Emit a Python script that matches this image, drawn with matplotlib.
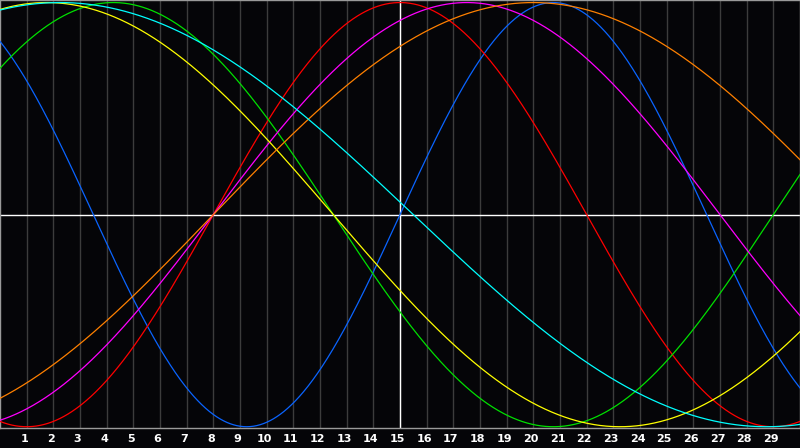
"""Biorhythm chart: seven cycles over a 30 day window."""
import matplotlib

matplotlib.use("Agg")
import matplotlib.pyplot as plt
import numpy as np

# chart window and cycle data
DAYS_SINCE_BIRTH = 19144          # day count at the left edge of the chart
WINDOW_DAYS = 30
TODAY = 15                        # marked with the white vertical line
DAY_LABELS = list(range(1, 30))

CYCLE_NAMES = ["physical", "emotional", "intellectual", "intuitive",
               "aesthetic", "awareness", "spiritual"]
CYCLE_PERIODS = [23, 28, 33, 38, 43, 48, 53]
CYCLE_COLORS = ["#0a64ff", "#ff0000", "#00e000", "#ff00ff",
                "#ffff00", "#ff8000", "#00ffff"]

BG = "#050508"
GRID = "#3c3c3c"
FRAME = "#9a9a9a"

fig = plt.figure(figsize=(8, 4.48), dpi=100, facecolor=BG)
ax = fig.add_axes([0, 20 / 448, 1, 428 / 448])
ax.set_facecolor(BG)

t = np.linspace(0, WINDOW_DAYS, 1200)
for name, period, color in zip(CYCLE_NAMES, CYCLE_PERIODS, CYCLE_COLORS):
    y = np.sin(2 * np.pi * (DAYS_SINCE_BIRTH + t) / period)
    ax.plot(t, y, color=color, lw=0.9, zorder=3, label=name)

for d in DAY_LABELS:
    ax.axvline(d, color=GRID, lw=1.0, zorder=1)
ax.axvline(TODAY, color="white", lw=1.0, zorder=2)
ax.axhline(0, color="white", lw=1.0, zorder=2)

ax.set_xlim(0, WINDOW_DAYS)
ax.set_ylim(-1.006, 1.012)
ax.set_xticks([])
ax.set_yticks([])
for side in ["top", "left", "right", "bottom"]:
    ax.spines[side].set_color(FRAME)
    ax.spines[side].set_linewidth(1.0)

for d in DAY_LABELS:
    fig.text(d / WINDOW_DAYS - 0.003, 9.5 / 448, str(d), color="white",
             fontsize=8, fontweight="bold", family="DejaVu Sans",
             ha="center", va="center")

fig.savefig("out.png", dpi=100, facecolor=BG)
